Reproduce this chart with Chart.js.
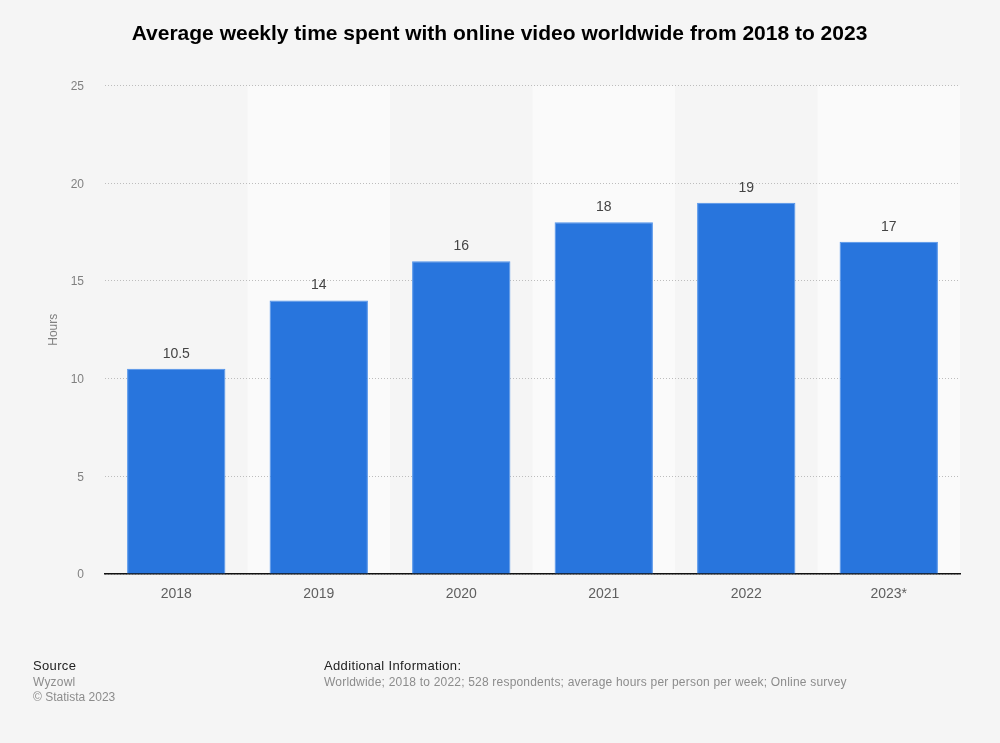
<!DOCTYPE html>
<html>
<head>
<meta charset="utf-8">
<title>Average weekly time spent with online video</title>
<script src="https://cdn.jsdelivr.net/npm/chart.js@4"></script>
<style>
html,body{margin:0;padding:0;background:#f5f5f5}
#wrap{position:relative;width:1000px;height:743px;overflow:hidden;font-family:"Liberation Sans",Arial,sans-serif}
canvas{position:absolute;left:0;top:0}
.note{position:absolute;font-size:12px;line-height:15px;color:#8c8c8c;letter-spacing:.2px;white-space:nowrap}
.note b{display:block;font-weight:normal;font-size:13px;line-height:18px;color:#222;letter-spacing:.35px}
</style>
</head>
<body>
<div id="wrap">
<canvas id="cv" width="1000" height="743"></canvas>
<div class="note" style="left:33px;top:657px"><b>Source</b>Wyzowl<br><span style="letter-spacing:0">© Statista 2023</span></div>
<div class="note" style="left:324px;top:657px"><b>Additional Information:</b>Worldwide; 2018 to 2022; 528 respondents; average hours per person per week; Online survey</div>
</div>
<script>
var years=['2018','2019','2020','2021','2022','2023*'];
var hours=[10.5,14,16,18,19,17];
var yTicks=[0,5,10,15,20,25];
var chartTitle='Average weekly time spent with online video worldwide from 2018 to 2023';
var yTitle='Hours';

var FONT='"Liberation Sans", Arial, sans-serif';

// alternating column bands behind the bars
var bandsPlugin={id:'bands',beforeDraw:function(c){
  var a=c.chartArea,ctx=c.ctx,w=a.width/years.length;
  ctx.save();
  ctx.fillStyle='#fafafa';
  years.forEach(function(_,i){if(i%2===1)ctx.fillRect(a.left+i*w,a.top,w,a.height);});
  ctx.restore();
}};

// value labels above the bars
var valuesPlugin={id:'values',afterDatasetsDraw:function(c){
  var ctx=c.ctx,meta=c.getDatasetMeta(0);
  ctx.save();
  ctx.font='14px '+FONT;ctx.fillStyle='#444';ctx.textAlign='center';ctx.textBaseline='alphabetic';
  meta.data.forEach(function(el,i){ctx.fillText(String(hours[i]),el.x,el.y-11);});
  ctx.restore();
}};

// right padding would push the title off centre, so give it the full canvas width
var titleCenterPlugin={id:'titleCenter',afterLayout:function(c){c.titleBlock.right=c.width-1;}};

new Chart(document.getElementById('cv'),{
  type:'bar',
  data:{labels:years,datasets:[{data:hours,backgroundColor:'#2875dd',borderColor:'#4f92ea',borderWidth:1,borderSkipped:'bottom',barPercentage:0.69,categoryPercentage:1}]},
  plugins:[bandsPlugin,valuesPlugin,titleCenterPlugin],
  options:{
    responsive:false,animation:false,devicePixelRatio:1,
    layout:{padding:{left:0,right:40,top:0,bottom:0}},
    plugins:{
      legend:{display:false},tooltip:{enabled:false},
      title:{display:true,text:chartTitle,color:'#000',font:{family:FONT,size:21,weight:'bold',lineHeight:1.2},padding:{top:21.5,bottom:38.8}}
    },
    scales:{
      x:{
        afterFit:function(s){s.height=169;},
        grid:{display:false,drawTicks:false},
        border:{color:'#111',width:1.5},
        ticks:{color:'#5f5f5f',font:{family:FONT,size:14},padding:12,maxRotation:0}
      },
      y:{
        min:0,max:25,
        afterFit:function(s){s.width=105;},
        afterBuildTicks:function(s){s.ticks=yTicks.map(function(v){return{value:v};});},
        grid:{color:'#bdbdbd',lineWidth:1,drawTicks:false},
        border:{display:false,dash:[1,2]},
        ticks:{color:'#808080',font:{family:FONT,size:12},padding:21,labelOffset:1},
        title:{display:true,text:yTitle,color:'#808080',font:{family:FONT,size:12},padding:{top:46,bottom:0}}
      }
    }
  }
});
</script>
</body>
</html>
